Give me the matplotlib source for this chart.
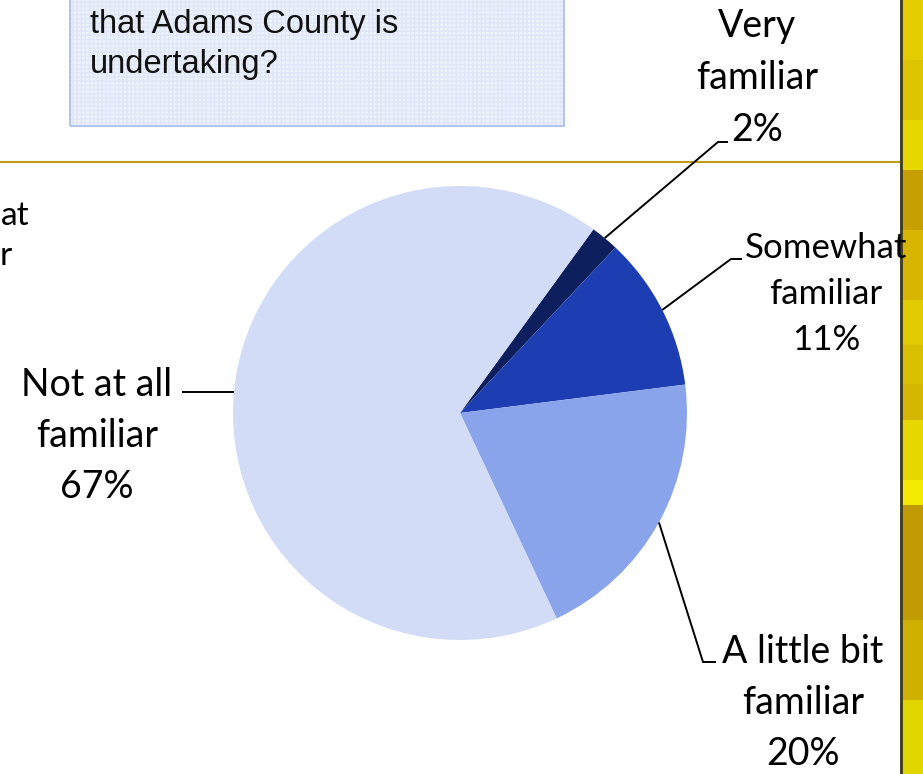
import matplotlib
matplotlib.use("Agg")
import matplotlib.pyplot as plt
from matplotlib.patches import Rectangle
import numpy as np

# ---- data ----
categories = ["Very\nfamiliar", "Somewhat\nfamiliar", "A little bit\nfamiliar", "Not at all\nfamiliar"]
values = [2, 11, 20, 67]
colors = ["#0d1f5c", "#1c3eb2", "#8aa4ec", "#d3dcf6"]
question_lines = ["that Adams County is", "undertaking?"]

W, H = 923, 774
fig = plt.figure(figsize=(W / 100, H / 100), dpi=100)
ax = fig.add_axes([0, 0, 1, 1])

def Y(py):
    return H - py

cx, cy, R = 460, Y(413), 227
wedges, _ = ax.pie(values, colors=colors, startangle=54, counterclock=False,
                   center=(cx, cy), radius=R, wedgeprops=dict(linewidth=0))
ax.set_xlim(0, W)
ax.set_ylim(0, H)
ax.set_aspect("equal")
ax.set_axis_off()

# ---- labels with leader lines ----
label_font = "Lato"
# (elbow px, end px, line-center x, first baseline py, spacing, fontsize)
label_layout = [
    ((718, 142), (728, 142), 757, 37, 52, 27),
    ((731, 259), (742, 259), 826, 258, 46, 25),
    ((703, 662), (716, 662), 803, 663, 51, 27),
    ((182, 393), (182, 393), 97, 396, 51, 27),
]
for w, cat, val, (elb, end, tx, by, sp, fs) in zip(wedges, categories, values, label_layout):
    mid = np.deg2rad((w.theta1 + w.theta2) / 2)
    sx, sy = cx + R * np.cos(mid), cy + R * np.sin(mid)
    ex, ey = elb[0], Y(elb[1])
    if cat.startswith("Not"):
        ey = sy
        ax.plot([sx, ex], [sy, ey], color="black", lw=1.4, solid_capstyle="butt")
    else:
        ax.plot([sx, ex, end[0]], [sy, ey, ey], color="black", lw=1.4,
                solid_capstyle="butt", solid_joinstyle="miter")
    lines = cat.split("\n") + [f"{val}%"]
    for i, t in enumerate(lines):
        ax.text(tx, Y(by + i * sp), t, ha="center", va="baseline",
                fontsize=fs, family=label_font, color="black", zorder=5)

# partial label from the neighbouring chart on the left edge
ax.text(1, Y(225), "at", ha="left", va="baseline", fontsize=24,
        family=label_font, color="black")
ax.text(0, Y(265), "r", ha="left", va="baseline", fontsize=24,
        family=label_font, color="black")

# ---- question box ----
box_hatch = Rectangle((70, Y(126)), 494, 160, facecolor="#eef2fc",
                      edgecolor="#dfe6f7", hatch="++++", linewidth=0, zorder=0)
ax.add_patch(box_hatch)
box = Rectangle((70, Y(126)), 494, 160, facecolor="none",
                edgecolor="#b4c5ec", linewidth=1.5, zorder=1)
ax.add_patch(box)
for i, t in enumerate(question_lines):
    ax.text(90, Y(33 + i * 40), t, ha="left", va="baseline", fontsize=23.5,
            family="Liberation Sans", color="#111111", zorder=2)

# ---- slide decoration ----
ax.plot([0, 900], [Y(162), Y(162)], color="#c29c12", lw=1.5, zorder=0)
band_edges = [0, 60, 120, 170, 230, 300, 345, 384, 420, 480, 505, 620, 700, 774]
band_colors = ["#e3cc00", "#dcc400", "#e8d800", "#c6a000", "#d6b400", "#e0cc00",
               "#d8c000", "#d2b600", "#e8d800", "#f4ea00", "#bf9a00", "#cfb000", "#e2d600"]
for (a, b), c in zip(zip(band_edges[:-1], band_edges[1:]), band_colors):
    ax.add_patch(Rectangle((900, Y(b)), 23, b - a, facecolor=c, edgecolor="none", zorder=3))
ax.plot([900.5, 900.5], [0, H], color="#3b3a30", lw=2, zorder=4)

fig.savefig("out.png", dpi=100)
